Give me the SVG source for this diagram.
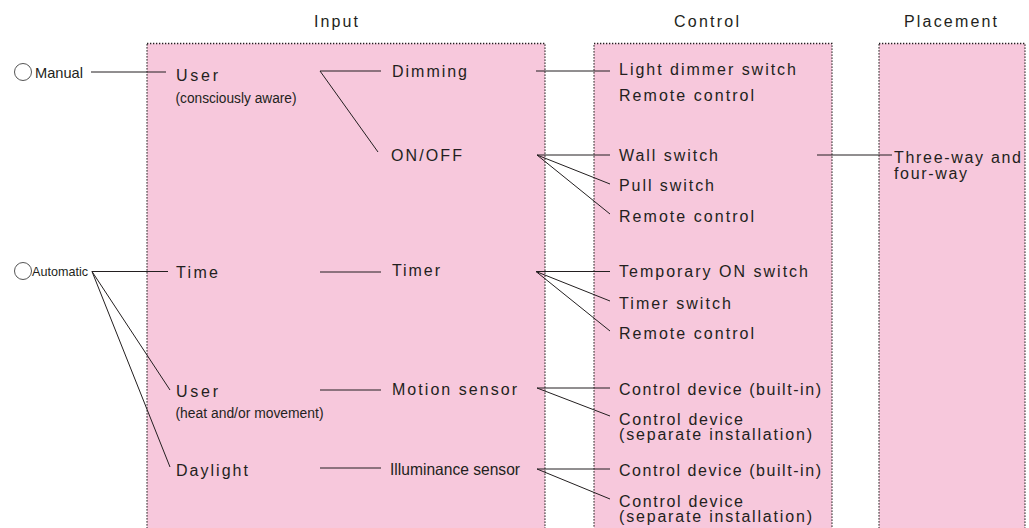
<svg xmlns="http://www.w3.org/2000/svg" width="1029" height="528" viewBox="0 0 1029 528">
<style>
.box{fill:#f7c8dc;stroke:#231f20;stroke-width:1.3;stroke-dasharray:1.3 1.7}
.t{font-family:"Liberation Sans",Arial,sans-serif;font-size:16px;fill:#231f20}
.h{font-family:"Liberation Sans",Arial,sans-serif;font-size:16px;fill:#231f20}
.n{font-family:"Liberation Sans",Arial,sans-serif;fill:#231f20}
.c{fill:#fff;stroke:#555;stroke-width:1}
#connectors line{stroke:#231f20;stroke-width:1}
</style>
<rect width="1029" height="528" fill="#fff"/>
<g id="headers">
<text class="h" x="314" y="27" textLength="44">Input</text>
<text class="h" x="674" y="27" textLength="65">Control</text>
<text class="h" x="904" y="27" textLength="93">Placement</text>
</g>
<g id="columns">
<rect class="box" x="147" y="43.5" width="398" height="500"/>
<rect class="box" x="594" y="43.5" width="238" height="500"/>
<rect class="box" x="879" y="43.5" width="146" height="500"/>
</g>
<g id="connectors">
<line x1="91" y1="72" x2="166" y2="72"/>
<line x1="320" y1="71" x2="381" y2="71"/>
<line x1="320" y1="71" x2="378" y2="152"/>
<line x1="536" y1="71" x2="610" y2="71"/>
<line x1="537" y1="155" x2="610" y2="155"/>
<line x1="537" y1="155" x2="610" y2="184"/>
<line x1="537" y1="155" x2="610" y2="214"/>
<line x1="817" y1="155" x2="892" y2="155"/>
<line x1="92" y1="271.5" x2="168" y2="271.5"/>
<line x1="92" y1="271.5" x2="170" y2="390"/>
<line x1="92" y1="271.5" x2="170" y2="467"/>
<line x1="320" y1="272" x2="381" y2="272"/>
<line x1="320" y1="390" x2="381" y2="390"/>
<line x1="320" y1="468" x2="381" y2="468"/>
<line x1="536" y1="271.5" x2="610" y2="271.5"/>
<line x1="536" y1="271.5" x2="610" y2="301"/>
<line x1="536" y1="271.5" x2="610" y2="331"/>
<line x1="537" y1="388" x2="610" y2="388"/>
<line x1="537" y1="388" x2="610" y2="416"/>
<line x1="537" y1="469" x2="610" y2="469"/>
<line x1="537" y1="469" x2="610" y2="499"/>
</g>
<g id="manual">
<circle class="c" cx="23" cy="72" r="8.5"/>
<text class="n" x="35" y="77.5" font-size="15" textLength="48" lengthAdjust="spacingAndGlyphs">Manual</text>
</g>
<g id="automatic">
<circle class="c" cx="23" cy="271" r="8.5"/>
<text class="n" x="32" y="276" font-size="13.5" textLength="56" lengthAdjust="spacingAndGlyphs">Automatic</text>
</g>
<g id="user-manual">
<text class="t" x="176" y="81" textLength="42">User</text>
<text class="n" x="175.5" y="102.5" font-size="15.5" textLength="121" lengthAdjust="spacingAndGlyphs">(consciously aware)</text>
</g>
<g id="dimming"><text class="t" x="392" y="77" textLength="75">Dimming</text></g>
<g id="onoff"><text class="t" x="391" y="161" textLength="71">ON/OFF</text></g>
<g id="light-dimmer"><text class="t" x="619" y="75" textLength="177">Light dimmer switch</text></g>
<g id="remote1"><text class="t" x="619" y="100.5" textLength="135">Remote control</text></g>
<g id="wall-switch"><text class="t" x="619" y="161" textLength="99">Wall switch</text></g>
<g id="pull-switch"><text class="t" x="619" y="191" textLength="95">Pull switch</text></g>
<g id="remote2"><text class="t" x="619" y="221.5" textLength="135">Remote control</text></g>
<g id="three-way">
<text class="t" x="894" y="162.5" textLength="127">Three-way and</text>
<text class="t" x="894" y="179" textLength="73">four-way</text>
</g>
<g id="time"><text class="t" x="176" y="277.5" textLength="42">Time</text></g>
<g id="timer"><text class="t" x="392" y="276" textLength="48">Timer</text></g>
<g id="temp-on"><text class="t" x="619" y="277" textLength="189">Temporary ON switch</text></g>
<g id="timer-switch"><text class="t" x="619" y="309" textLength="112">Timer switch</text></g>
<g id="remote3"><text class="t" x="619" y="338.5" textLength="135">Remote control</text></g>
<g id="user-auto">
<text class="t" x="176" y="397" textLength="42">User</text>
<text class="n" x="175.5" y="418" font-size="15.5" textLength="148" lengthAdjust="spacingAndGlyphs">(heat and/or movement)</text>
</g>
<g id="motion"><text class="t" x="392" y="395" textLength="125">Motion sensor</text></g>
<g id="ctrl-builtin1"><text class="t" x="619" y="394.5" textLength="202">Control device (built-in)</text></g>
<g id="ctrl-sep1">
<text class="t" x="619" y="425" textLength="124">Control device</text>
<text class="t" x="619" y="440" textLength="193">(separate installation)</text>
</g>
<g id="daylight"><text class="t" x="176" y="476" textLength="72">Daylight</text></g>
<g id="illuminance"><text class="n" x="390" y="474.5" font-size="16.5" textLength="130" lengthAdjust="spacingAndGlyphs">Illuminance sensor</text></g>
<g id="ctrl-builtin2"><text class="t" x="619" y="476" textLength="202">Control device (built-in)</text></g>
<g id="ctrl-sep2">
<text class="t" x="619" y="507" textLength="124">Control device</text>
<text class="t" x="619" y="522" textLength="193">(separate installation)</text>
</g>
</svg>
